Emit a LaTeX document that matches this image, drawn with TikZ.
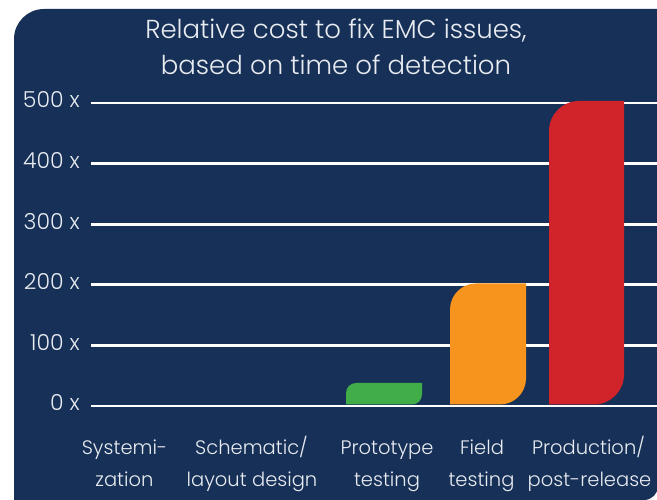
\documentclass[tikz,border=0pt]{standalone}
\usepackage{fontspec}
\setmainfont{Poppins}[UprightFont=* Light]
\definecolor{navy}{RGB}{22,48,87}
\definecolor{txt}{RGB}{232,235,240}
\definecolor{barGreen}{RGB}{64,173,73}
\definecolor{barOrange}{RGB}{247,148,30}
\definecolor{barRed}{RGB}{209,35,42}
\newcommand{\leafbar}[6]{% color, L, R, B, T, r
  \fill[#1] (#2,#4) -- (#2,#5-#6) arc[start angle=180,end angle=90,radius=#6] -- (#3,#5)
    -- (#3,#4+#6) arc[start angle=0,end angle=-90,radius=#6] -- cycle;}
\begin{document}
\begin{tikzpicture}[x=1pt,y=1pt,
  grid/.style={draw=white,line width=2.8pt},
  tick/.style={text=txt,font=\fontsize{22}{26}\selectfont,anchor=base east,inner sep=0pt},
  title/.style={text=txt,font=\fontsize{26}{30}\selectfont,anchor=base,inner sep=0pt},
  cat/.style={text=txt,font=\fontsize{19.5}{24}\selectfont,anchor=base,inner sep=0pt}]
\useasboundingbox (0,0) rectangle (657,500);
\fill[white] (0,0) rectangle (657,500);
% background leaf shape
\fill[navy] (14,-5) -- (14,491-30) arc[start angle=180,end angle=90,radius=30] -- (665,491)
  -- (665,14) -- cycle;
\fill[navy] (14,-5) rectangle (644,14);
\fill[navy] (644,14) -- (644,0) arc[start angle=-90,end angle=0,radius=14] -- cycle;
% title
\node[title] (t1) at (336,461) {Relative cost to fix EMC issues,};
\node[title] (t2) at (336,425) {based on time of detection};
% grid lines and ticks
\foreach \v/\lab in {0/0 x,1/100 x,2/200 x,3/300 x,4/400 x,5/500 x}{
  \coordinate (gl\v) at (91,94+60.6*\v);
  \coordinate (gr\v) at (660,94+60.6*\v);
  \draw[grid] (gl\v) -- (gr\v);
  \node[tick] (tk\v) at (80,89+60.6*\v) {\lab};
}
% bars
\leafbar{barGreen}{346}{422}{95.5}{117}{10}
\leafbar{barOrange}{450}{526}{95.5}{216.5}{26}
\leafbar{barRed}{549}{624}{95.5}{399}{30}
% categories
\node[cat] (c1a) at (124.5,45) {Systemi-};
\node[cat] (c1b) at (124.5,13) {zation};
\node[cat] (c2a) at (251.5,45) {Schematic/};
\node[cat] (c2b) at (252,13) {layout design};
\node[cat] (c3a) at (387,45) {Prototype};
\node[cat] (c3b) at (387,13) {testing};
\node[cat] (c4a) at (482,45) {Field};
\node[cat] (c4b) at (481.5,13) {testing};
\node[cat] (c5a) at (588.5,45) {Production/};
\node[cat] (c5b) at (589.5,13) {post-release};
\end{tikzpicture}
\end{document}
